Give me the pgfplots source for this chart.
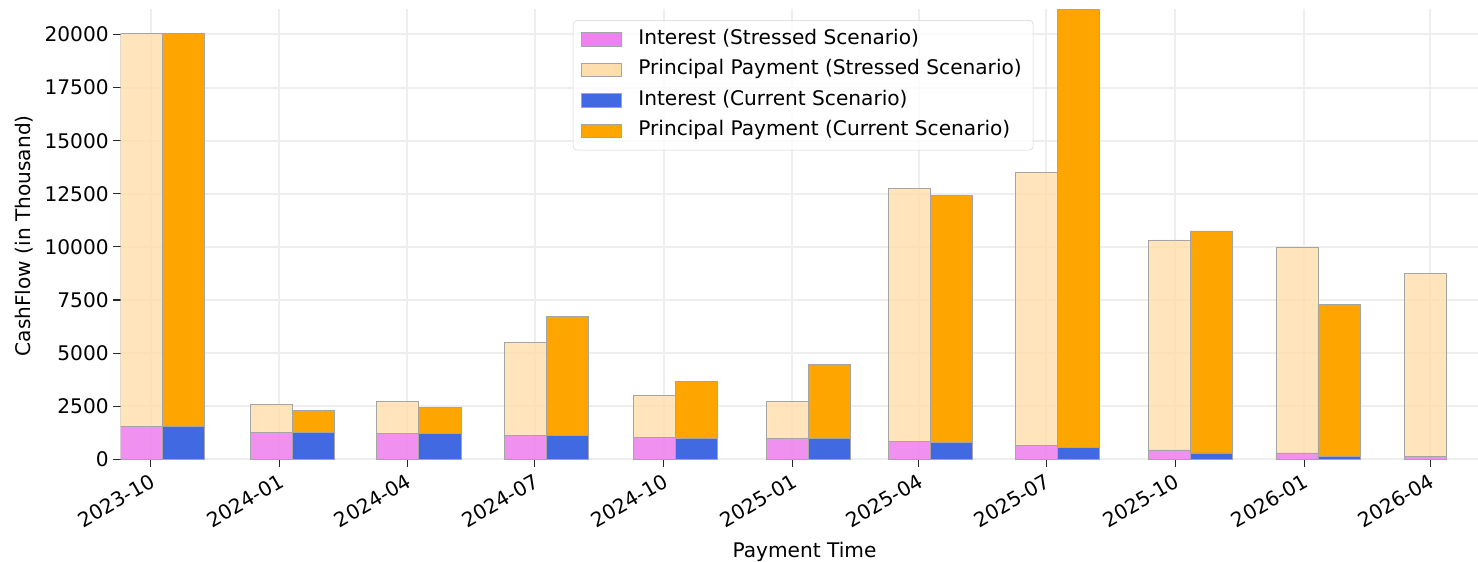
\documentclass[border=0pt]{standalone}
\usepackage{fontspec}
\setmainfont{DejaVu Sans}
\usepackage{pgfplots}
\usepackage{pgfplotstable}
\pgfplotsset{compat=1.18}

\definecolor{sint}{RGB}{238,130,238}
\definecolor{sprin}{RGB}{255,222,173}
\definecolor{cint}{RGB}{65,105,225}
\definecolor{cprin}{RGB}{255,165,0}
\definecolor{gridc}{RGB}{238,238,238}
\definecolor{edgec}{RGB}{165,165,165}

\pgfplotstableread{
x int prin
-6.3 1535 18515
86.2 1271 1319
176.4 1205 1526
267.4 1111 4379
359.5 1050 1944
454.4 989 1742
541.2 847 11912
632.2 640 12872
726.7 438 9887
817.9 297 9684
909.4 155 8602
}\stressed

\pgfplotstableread{
x int prin
23.7 1535 18515
116.2 1271 1036
206.4 1205 1225
297.4 1111 5603
389.5 989 2683
484.4 989 3465
571.2 782 11629
662.2 579 20607
756.7 297 10452
847.9 155 7143
}\current

\newcommand{\fs}{\fontsize{15.1}{18}\selectfont}

\pgfplotsset{
  base/.style={
    at={(0,0)}, anchor=south west,
    scale only axis, width=1025.7pt, height=337.5pt,
    xmin=-21.3, xmax=954.4, ymin=0, ymax=21186,
    ybar stacked, bar width=30,
    axis line style={draw=none},
    font=\fs,
  },
}

\begin{document}
\begin{tikzpicture}
\path[use as bounding box] (-90.525pt,-76.275pt) rectangle (1017.975pt,344.475pt);

\begin{axis}[base,
  grid=major,
  major grid style={gridc, line width=1.5pt},
  xtick={0,92,183,274,366,458,548,639,731,823,913},
  xticklabels={2023-10,2024-01,2024-04,2024-07,2024-10,2025-01,2025-04,2025-07,2025-10,2026-01,2026-04},
  ytick={0,2500,...,20000},
  scaled y ticks=false,
  yticklabel style={/pgf/number format/.cd, fixed, 1000 sep={}, assume math mode=true},
  xticklabel style={rotate=30, anchor=north east},
  tick align=outside,
  major tick length=5.5pt,
  tick style={black!85, line width=0.8pt},
  xtick pos=left, ytick pos=left,
  xlabel={Payment Time},
  ylabel={CashFlow (in Thousand)},
  every axis x label/.style={at={(axis description cs:0.5,-0.2171)}, anchor=base},
  every axis y label/.style={at={(axis description cs:-0.0663,0.4967)}, rotate=90, anchor=base},
]
\addplot[fill=sint, fill opacity=0.88, draw=edgec, line width=0.5pt] table[x=x,y=int]{\stressed};
\addplot[fill=sprin, fill opacity=0.82, draw=edgec, line width=0.5pt] table[x=x,y=prin]{\stressed};
\end{axis}

\begin{axis}[base,
  xtick=\empty, ytick=\empty,
  legend style={
    at={(axis description cs:0.3307,0.9762)}, anchor=north west,
    draw=gray!35, rounded corners=3pt, fill=white, fill opacity=0.8, text opacity=1, draw opacity=1,
    inner xsep=5.6pt, inner ysep=7pt,
    row sep=8.2pt,
    nodes={inner sep=0pt, text height=11pt, text depth=3.7pt, anchor=west},
    font=\fs,
  },
  legend cell align=left,
  legend image code/.code={\draw[sharp corners, fill opacity=1, #1] (0pt,-5pt) rectangle (30pt,5pt); \path (42.75pt,0pt);},
]
\addlegendimage{fill=sint, fill opacity=0.88, draw=edgec, line width=0.5pt}
\addlegendentry{Interest (Stressed Scenario)}
\addlegendimage{fill=sprin, fill opacity=0.82, draw=edgec, line width=0.5pt}
\addlegendentry{Principal Payment (Stressed Scenario)\hspace*{3pt}}
\addplot[fill=cint, draw=edgec, line width=0.5pt] table[x=x,y=int]{\current};
\addlegendentry{Interest (Current Scenario)}
\addplot[fill=cprin, draw=edgec, line width=0.5pt] table[x=x,y=prin]{\current};
\addlegendentry{Principal Payment (Current Scenario)}
\end{axis}
\end{tikzpicture}
\end{document}
